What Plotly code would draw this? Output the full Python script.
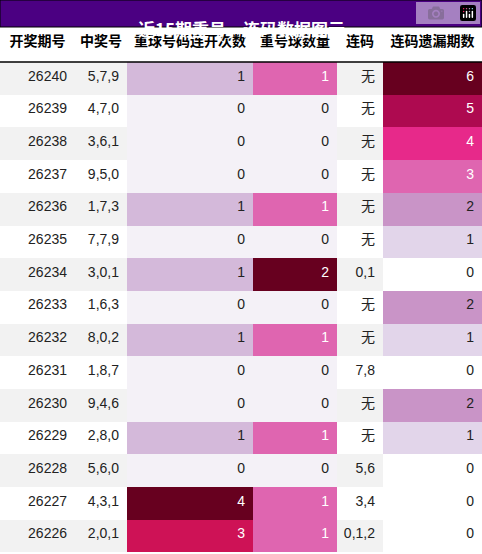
import plotly.graph_objects as go

periods = [26240, 26239, 26238, 26237, 26236, 26235, 26234, 26233, 26232, 26231, 26230, 26229, 26228, 26227, 26226]
numbers = ["5,7,9", "4,7,0", "3,6,1", "9,5,0", "1,7,3", "7,7,9", "3,0,1", "1,6,3", "8,0,2", "1,8,7", "9,4,6", "2,8,0", "5,6,0", "4,3,1", "2,0,1"]
repeat_runs = [1, 0, 0, 0, 1, 0, 1, 0, 1, 0, 0, 1, 0, 4, 3]
repeat_count = [1, 0, 0, 0, 1, 0, 2, 0, 1, 0, 0, 1, 0, 1, 1]
consec = ["无", "无", "无", "无", "无", "无", "0,1", "无", "无", "7,8", "无", "无", "5,6", "3,4", "0,1,2"]
consec_gap = [6, 5, 4, 3, 2, 1, 0, 2, 1, 0, 2, 1, 0, 0, 0]
headers = ["开奖期号", "中奖号", "重球号码连开次数", "重号球数量", "连码", "连码遗漏期数"]

runs_col = {0: "#f4f1f7", 1: "#d4b9da", 3: "#ce1256", 4: "#67001f"}
count_col = {0: "#f4f1f7", 1: "#df65b0", 2: "#67001f"}
gap_col = {0: "#ffffff", 1: "#e2d5ea", 2: "#c994c7", 3: "#df65b0", 4: "#e7298a", 5: "#ae0a50", 6: "#67001f"}

stripe = ["#f2f2f2" if i % 2 == 0 else "#ffffff" for i in range(len(periods))]
dark = ("#67001f", "#ce1256", "#ae0a50", "#e7298a", "#df65b0")


def txt(cmap, vals):
    return ["white" if cmap[v] in dark else "#222" for v in vals]


fig = go.Figure(go.Table(
    columnwidth=[75, 52, 126, 84, 46, 99],
    domain=dict(x=[0, 1], y=[0, 1 - 27 / 554]),
    header=dict(values=headers, fill_color="white", line=dict(color="white", width=0),
                font=dict(family="Noto Sans CJK SC", size=14, color="black", weight="bold"),
                align="center", height=35),
    cells=dict(values=[periods, numbers, repeat_runs, repeat_count, consec, consec_gap],
               fill_color=[stripe, stripe, [runs_col[v] for v in repeat_runs],
                           [count_col[v] for v in repeat_count], stripe,
                           [gap_col[v] for v in consec_gap]],
               font=dict(family="Liberation Sans, Noto Sans CJK SC", size=14,
                         color=[["#222"] * 15, ["#222"] * 15, txt(runs_col, repeat_runs),
                                txt(count_col, repeat_count), ["#222"] * 15, txt(gap_col, consec_gap)]),
               line=dict(color="white", width=0),
               align="right", height=32.7),
))

fig.add_shape(type="rect", xref="paper", yref="paper", x0=0, x1=1, y0=1 - 27 / 554, y1=1,
              fillcolor="#4b0082", line=dict(color="black", width=1), layer="above")
fig.add_shape(type="line", xref="paper", yref="paper", x0=0, x1=1, y0=1 - 62 / 554, y1=1 - 62 / 554,
              line=dict(color="black", width=1.5), layer="above")
fig.add_annotation(text="近15期重号，连码数据图示", xref="paper", yref="paper", x=0.5, y=1 - 13.5 / 554,
                   showarrow=False, font=dict(family="Noto Sans CJK SC", size=17, color="white", weight="bold"))

fig.update_layout(width=482, height=554, margin=dict(l=0, r=0, t=0, b=0), paper_bgcolor="white")
fig.write_html("out.html", post_script="document.body.style.margin='0';document.body.style.overflow='hidden';")
